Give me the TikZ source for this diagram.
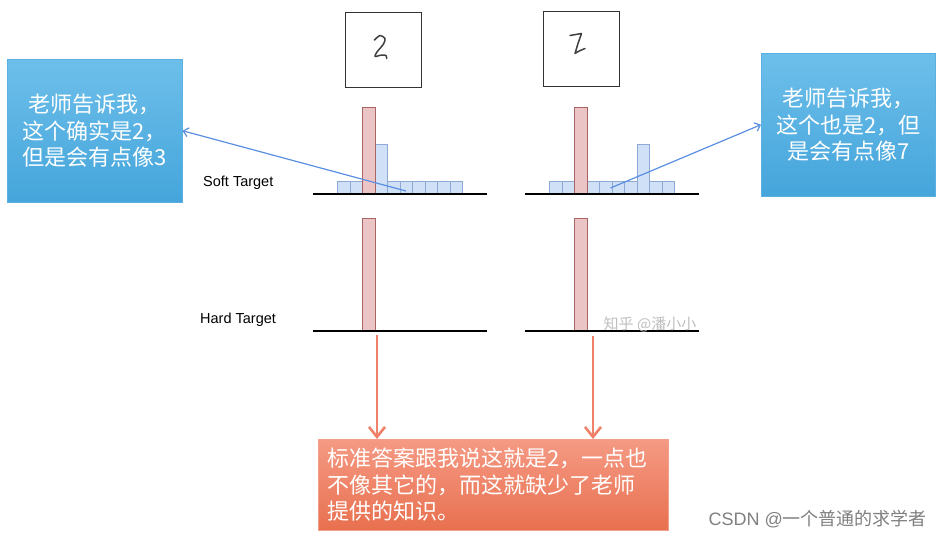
\documentclass[tikz,border=0pt]{standalone}
\usepackage{fontspec}
\setmainfont{Liberation Sans}
\newfontfamily\cjk{Noto Sans CJK SC}
\usetikzlibrary{arrows.meta,positioning}
\definecolor{barblue}{HTML}{CFE0F7}
\definecolor{barblueline}{HTML}{8FA9D6}
\definecolor{barred}{HTML}{EBC5C5}
\definecolor{barredline}{HTML}{A86565}
\definecolor{notetop}{HTML}{6DBFEA}
\definecolor{notebot}{HTML}{45A5DB}
\definecolor{noteline}{HTML}{5AB0E0}
\definecolor{salmontop}{HTML}{F59A84}
\definecolor{salmonbot}{HTML}{E8704F}
\definecolor{salmonline}{HTML}{F2A08C}
\definecolor{pointer}{HTML}{5B8FE2}
\definecolor{downarrow}{HTML}{EF806A}
\tikzset{>={Straight Barb[length=5pt,width=9pt]}}
\tikzset{
  softbar/.style={draw=barblueline, fill=barblue, line width=1pt, minimum width=12.5pt, inner sep=0pt, anchor=south},
  hotbar/.style={draw=barredline, fill=barred, line width=1pt, minimum width=12.5pt, inner sep=0pt, anchor=south},
  imgbox/.style={draw=black!80, line width=1.4pt, minimum width=76pt, minimum height=75pt, inner sep=0pt, anchor=north west},
  notebox/.style={draw=noteline, top color=notetop, bottom color=notebot, text=white, align=center, minimum width=175pt, minimum height=143pt, inner sep=0pt, anchor=north west, font=\cjk\fontsize{22}{26.5}\selectfont},
  labeltxt/.style={font=\fontsize{14.5}{16}\selectfont, inner sep=0pt}
}
\begin{document}
\begin{tikzpicture}[x=1pt, y=-1pt]
      \fill[white] (0,0) rectangle (943,538);
      \useasboundingbox (0,0) rectangle (943,538);
      \node[imgbox] (img1) at (345,12) {};
      \node[imgbox] (img2) at (543,11) {};
      \draw[black!75, line width=1.5pt, line cap=round, line join=round] plot[smooth] coordinates {(374.5,40) (380,35.5) (385,38.5) (383.5,44) (377,52) (375,56.5) (381.5,55) (386,55.5) (386.5,58.5)};
      \draw[black!75, line width=1.5pt, line cap=round, line join=round] (570,35.5) -- (581.5,33.5) -- (578,43.5) -- (575,53.5) .. controls (579,51) .. (585,48.5);
      \foreach \i/\h in {0/12,1/12,3/49,4/12,5/12,6/12,7/12,8/12,9/12}
        \node[softbar, minimum height=\h pt] (l\i) at (343.75+12.5*\i,194) {};
      \node[hotbar, minimum height=86pt] (l2) at (368.75,194) {};
      \foreach \i/\h in {0/12,1/12,3/12,4/12,5/12,6/12,7/49,8/12,9/12}
        \node[softbar, minimum height=\h pt] (r\i) at (555.75+12.5*\i,194) {};
      \node[hotbar, minimum height=86pt] (r2) at (580.75,194) {};
      \node[hotbar, minimum height=112pt] (lh) at (368.75,331) {};
      \node[hotbar, minimum height=112pt] (rh) at (580.75,331) {};
      \draw[line width=1.3pt] (313,194) -- (487,194);
      \draw[line width=1.3pt] (525,194) -- (699,194);
      \draw[line width=1.3pt] (313,331) -- (487,331);
      \draw[line width=1.3pt] (525,331) -- (699,331);
      \node[labeltxt, anchor=west] (soft) at (203,183) {Soft Target};
      \node[labeltxt, anchor=west] (hard) at (200,320) {Hard Target};
      \node[text=black!25, font=\cjk\fontsize{15}{17}\selectfont, inner sep=0pt] (mark1) at (650,324) {知乎 @潘小小};
      \node[notebox] (n0) at (7,59) {老师告诉我，\\这个确实是2，\\但是会有点像3};
      \node[notebox, minimum width=174pt] (n1) at (761,53) {老师告诉我，\\这个也是2，但\\是会有点像7};
      \node[draw=salmonline, top color=salmontop, bottom color=salmonbot, text=white, align=left, text width=332pt, inner xsep=9pt, inner ysep=0pt, minimum height=91pt, anchor=north west, font=\cjk\fontsize{22}{26.5}\selectfont] (n2) at (318,439) {标准答案跟我说这就是2，一点也\\不像其它的，而这就缺少了老师\\提供的知识。};
      \coordinate (aux1) at (406,191);
      \coordinate (aux2) at (610.5,188);
      \coordinate (aux3) at (377,335);
      \coordinate (aux4) at (593,336);
      \draw[->, pointer, line width=1.2pt] (aux1) -- (n0.east);
      \draw[->, pointer, line width=1.2pt] (aux2) -- (n1.west);
      \draw[-{Straight Barb[length=10pt,width=16pt]}, downarrow, line width=2.6pt] (aux3) -- (aux3 |- n2.north);
      \draw[-{Straight Barb[length=10pt,width=16pt]}, downarrow, line width=2.6pt] (aux4) -- (aux4 |- n2.north);
      \node[text=black!50, font=\fontsize{18}{20}\selectfont, anchor=east, inner sep=0pt] (csdn) at (927,519) {CSDN @{\cjk 一个普通的求学者}};
    \end{tikzpicture}
\end{document}
